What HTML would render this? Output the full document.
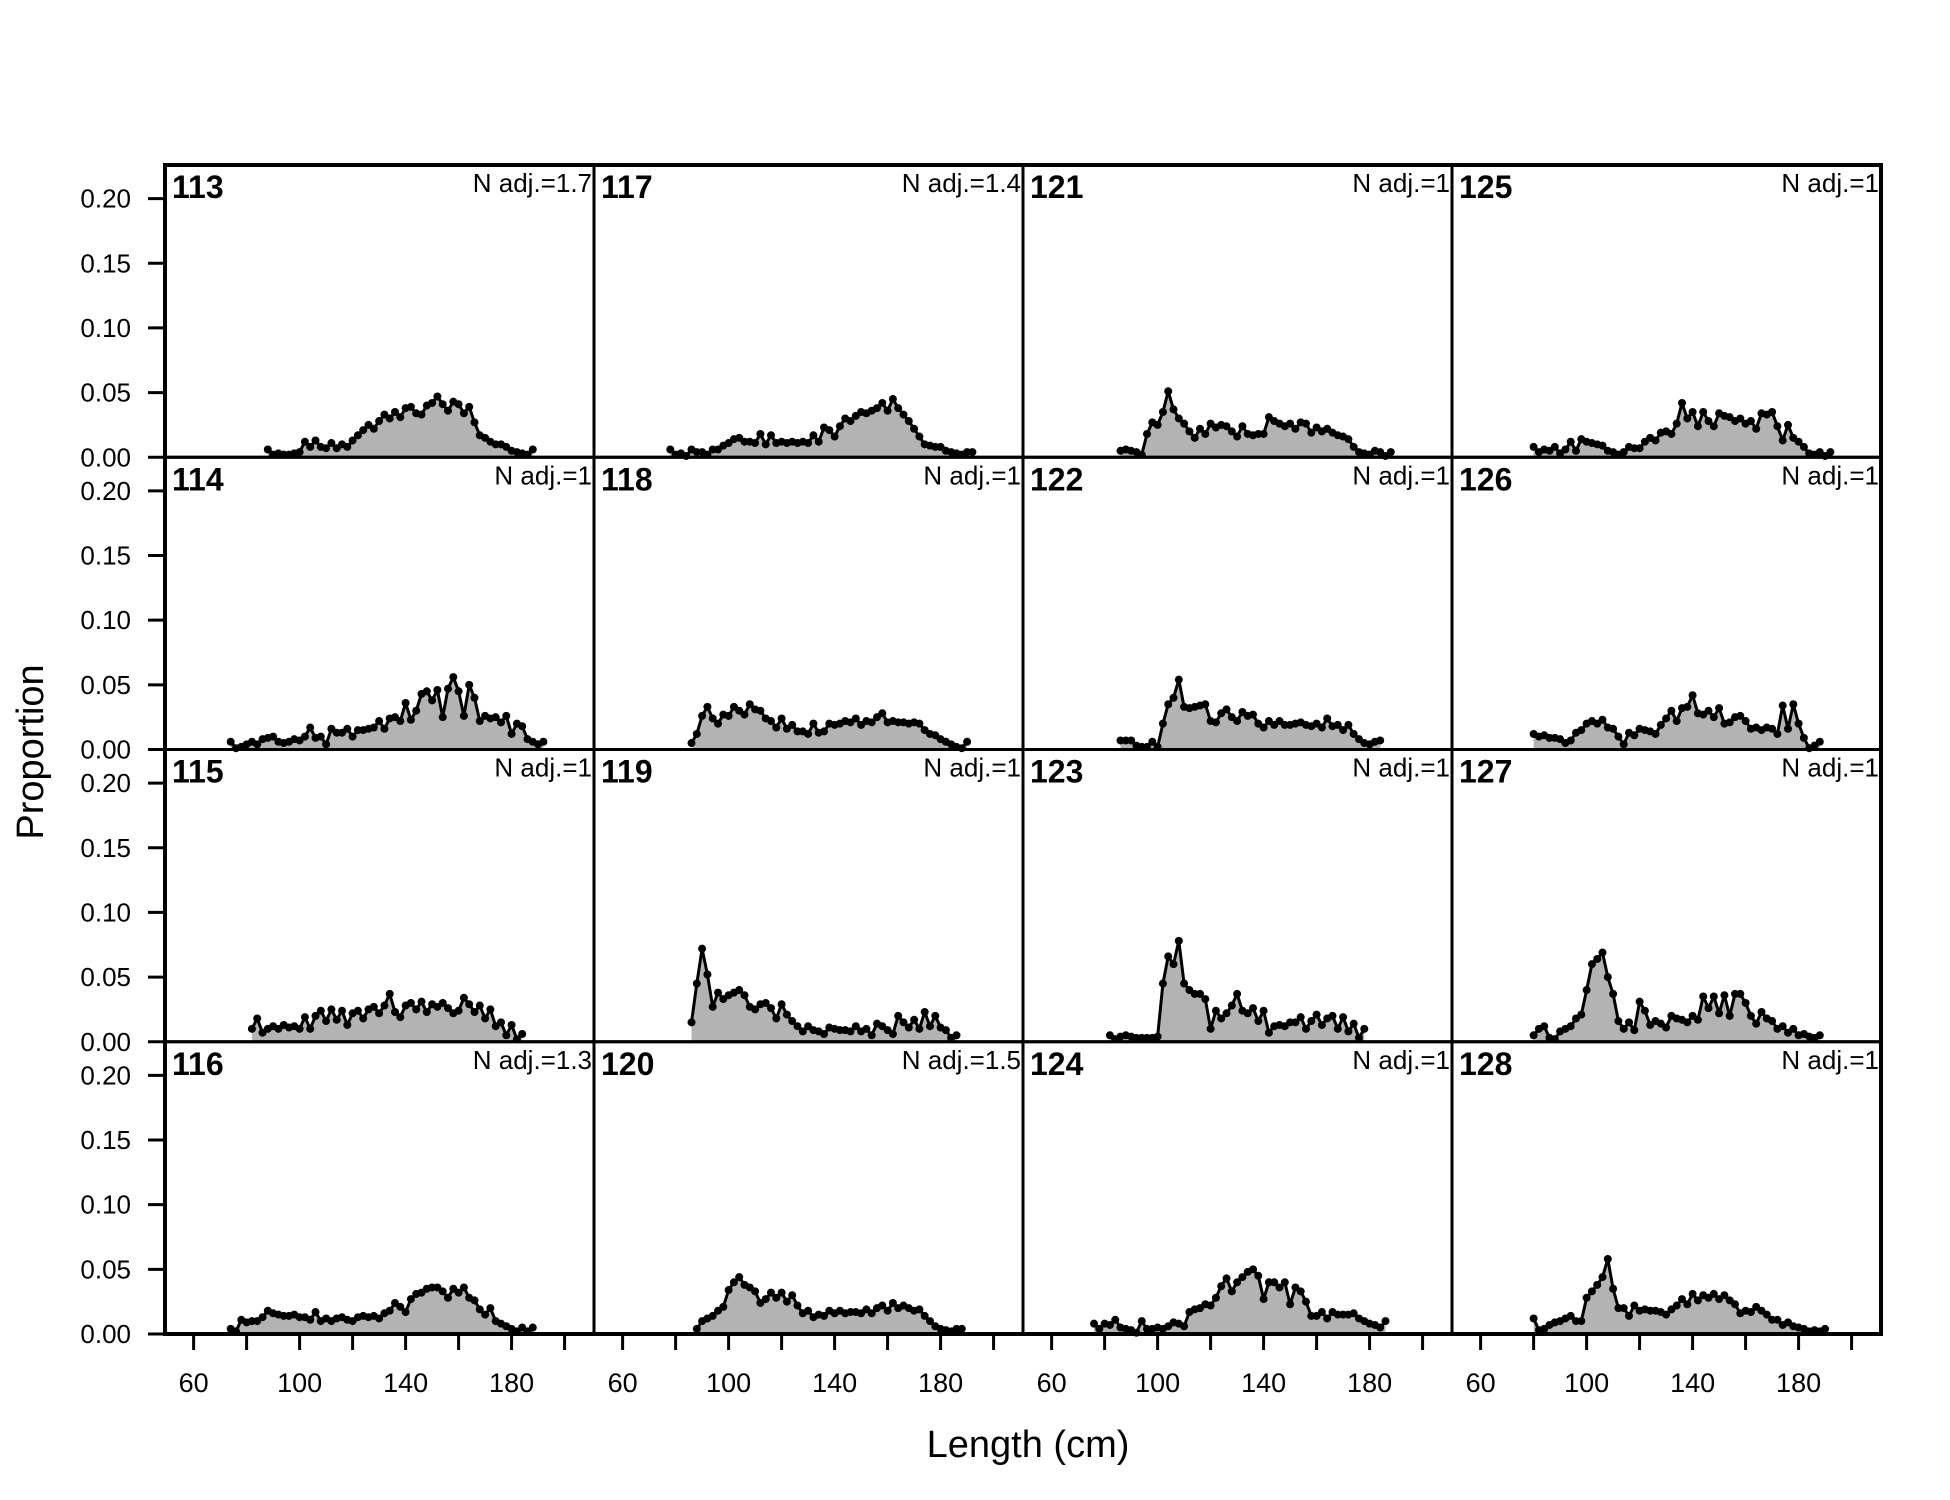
<!DOCTYPE html>
<html><head><meta charset="utf-8"><style>
html,body{margin:0;padding:0;background:#fff}
svg{display:block;font-family:"Liberation Sans",Arial,sans-serif}
</style></head><body>
<svg id="chart" width="1950" height="1500" viewBox="0 0 1950 1500" xmlns="http://www.w3.org/2000/svg">
<rect x="0" y="0" width="1950" height="1500" fill="#fff"/>
<g id="panels"></g>
<text x="0" y="0" transform="translate(43,752) rotate(-90)" text-anchor="middle" font-size="38">Proportion</text>
<text x="1028" y="1457" text-anchor="middle" font-size="38">Length (cm)</text>
</svg>
<script>
const panelIds = [113,114,115,116,117,118,119,120,121,122,123,124,125,126,127,128];
const nAdjLabels = ["1.7","1","1","1.3","1.4","1","1","1.5","1","1","1","1","1","1","1","1"];
const startLengths = [88,74,82,74,78,86,86,88,86,86,82,76,80,80,80,80];
const binWidth = 2;
const yTickValues = [0,0.05,0.10,0.15,0.20];
const yTickLabels = ["0.00","0.05","0.10","0.15","0.20"];
const xTickValues = [60,80,100,120,140,160,180,200];
const xTickLabels = ["60","","100","","140","","180",""];
const p113 = [.006,.002,.003,.002,.002,.003,.004,.012,.008,.013,.008,.007,.011,.007,.010,.008,.013,.017,.021,.025,.022,.028,.033,.030,.035,.031,.038,.039,.034,.033,.040,.042,.047,.041,.036,.043,.041,.034,.039,.027,.017,.015,.012,.010,.010,.008,.005,.004,.003,.002,.006];
const p114 = [.006,.001,.002,.004,.006,.004,.008,.009,.010,.006,.005,.006,.008,.007,.010,.017,.009,.010,.004,.016,.013,.013,.016,.010,.015,.015,.016,.017,.022,.016,.024,.025,.022,.036,.023,.030,.043,.045,.038,.046,.025,.047,.056,.045,.026,.050,.040,.022,.026,.024,.025,.021,.026,.012,.020,.018,.008,.006,.004,.006];
const p115 = [.010,.018,.007,.010,.012,.010,.013,.011,.012,.010,.019,.010,.020,.024,.016,.025,.017,.024,.013,.022,.024,.018,.025,.027,.022,.028,.037,.023,.019,.028,.030,.025,.031,.023,.029,.027,.030,.026,.022,.024,.034,.029,.023,.028,.018,.025,.012,.015,.005,.013,.002,.006];
const p116 = [.004,.002,.011,.009,.010,.010,.013,.018,.016,.015,.014,.014,.015,.013,.013,.011,.017,.010,.012,.010,.012,.013,.011,.010,.013,.014,.013,.014,.012,.016,.018,.024,.021,.017,.027,.031,.032,.035,.036,.036,.033,.028,.035,.032,.036,.028,.026,.019,.015,.020,.010,.008,.006,.004,.002,.005,.002,.005];
const p117 = [.006,.002,.003,.001,.006,.004,.004,.002,.006,.006,.009,.011,.014,.015,.012,.012,.011,.018,.010,.017,.011,.012,.011,.012,.011,.012,.011,.017,.012,.023,.021,.016,.024,.030,.028,.032,.035,.034,.036,.038,.042,.036,.045,.038,.033,.028,.022,.016,.010,.009,.008,.008,.005,.004,.003,.002,.004,.004];
const p118 = [.005,.012,.026,.033,.024,.020,.027,.026,.033,.030,.027,.035,.031,.030,.024,.022,.017,.024,.016,.019,.014,.014,.012,.020,.013,.014,.020,.019,.020,.022,.021,.024,.019,.022,.021,.025,.028,.021,.022,.021,.021,.020,.021,.020,.015,.012,.011,.008,.006,.004,.002,.001,.006];
const p119 = [.015,.045,.072,.052,.027,.038,.033,.036,.038,.040,.036,.027,.025,.029,.030,.026,.018,.029,.021,.016,.012,.008,.012,.009,.008,.006,.011,.010,.009,.009,.008,.012,.008,.010,.005,.014,.012,.009,.006,.020,.015,.011,.017,.010,.023,.012,.020,.011,.009,.003,.005];
const p120 = [.004,.010,.012,.014,.018,.021,.034,.040,.044,.038,.036,.033,.024,.027,.032,.028,.032,.025,.030,.022,.016,.018,.013,.015,.014,.018,.016,.018,.016,.017,.017,.016,.019,.016,.020,.022,.018,.024,.020,.022,.020,.018,.019,.014,.010,.006,.004,.003,.002,.004,.004];
const p121 = [.005,.006,.005,.004,.002,.018,.027,.025,.035,.051,.037,.030,.026,.020,.015,.022,.018,.026,.023,.025,.024,.020,.016,.024,.018,.017,.018,.018,.031,.028,.026,.024,.026,.022,.027,.026,.019,.023,.020,.022,.019,.017,.016,.014,.008,.004,.003,.002,.005,.004,.001,.004];
const p122 = [.007,.007,.007,.003,.002,.002,.006,.002,.020,.035,.040,.054,.033,.032,.033,.034,.035,.022,.021,.028,.031,.025,.022,.029,.026,.027,.020,.017,.022,.019,.022,.019,.019,.020,.021,.019,.018,.020,.017,.024,.018,.019,.015,.019,.012,.008,.005,.004,.006,.007];
const p123 = [.005,.002,.004,.005,.004,.003,.003,.003,.003,.004,.045,.066,.060,.078,.045,.040,.037,.037,.033,.010,.024,.018,.022,.028,.037,.024,.022,.026,.016,.024,.007,.012,.013,.012,.015,.015,.019,.010,.016,.021,.013,.018,.020,.010,.019,.008,.014,.003,.010];
const p124 = [.008,.004,.008,.007,.011,.005,.004,.003,.001,.010,.004,.004,.005,.004,.006,.009,.008,.006,.017,.019,.020,.023,.022,.028,.037,.043,.033,.040,.044,.048,.050,.045,.027,.040,.040,.036,.040,.023,.036,.033,.025,.014,.014,.017,.012,.017,.015,.015,.015,.016,.012,.010,.008,.007,.005,.010];
const p125 = [.008,.004,.006,.005,.008,.003,.006,.012,.005,.014,.012,.011,.010,.009,.005,.004,.002,.004,.008,.007,.007,.012,.015,.013,.019,.020,.018,.026,.042,.030,.035,.024,.035,.028,.024,.034,.032,.031,.028,.030,.026,.028,.022,.034,.033,.035,.024,.013,.025,.015,.012,.008,.003,.002,.004,.001,.004];
const p126 = [.012,.010,.011,.009,.009,.008,.005,.007,.013,.015,.020,.022,.020,.023,.017,.016,.010,.004,.013,.011,.016,.015,.014,.012,.019,.024,.030,.022,.032,.033,.042,.028,.027,.030,.025,.032,.020,.021,.025,.026,.022,.016,.017,.015,.017,.016,.012,.034,.016,.035,.020,.009,.001,.003,.006];
const p127 = [.005,.010,.012,.003,.002,.008,.010,.012,.018,.021,.040,.060,.064,.069,.050,.037,.016,.010,.015,.009,.031,.024,.013,.016,.014,.011,.020,.018,.017,.015,.020,.017,.035,.026,.035,.022,.036,.020,.037,.037,.030,.020,.014,.023,.018,.016,.010,.012,.007,.010,.005,.006,.004,.003,.005];
const p128 = [.012,.003,.004,.007,.009,.010,.012,.014,.010,.010,.028,.033,.038,.044,.058,.035,.020,.020,.014,.022,.018,.019,.018,.018,.017,.015,.019,.022,.027,.023,.031,.026,.030,.028,.031,.027,.030,.026,.023,.016,.018,.017,.021,.018,.015,.011,.011,.007,.009,.006,.005,.004,.002,.003,.002,.004];
const series = [p113,p114,p115,p116,p117,p118,p119,p120,p121,p122,p123,p124,p125,p126,p127,p128];

const NS = "http://www.w3.org/2000/svg";
const L = 165, T = 165, PW = 429, PH = 292.25;
const XMIN = 49.2, XMAX = 211.1, YMAX = 0.226;
const root = document.getElementById('panels');
function mk(tag, attrs, parent){const e=document.createElementNS(NS,tag);for(const k in attrs)e.setAttribute(k,attrs[k]);parent.appendChild(e);return e;}
function xs(col,v){return L+col*PW+(v-XMIN)/(XMAX-XMIN)*PW;}
function ys(row,v){return T+(row+1)*PH-v/YMAX*PH;}

for(let i=0;i<panelIds.length;i++){
  const col=Math.floor(i/4), row=i%4;
  const g=mk('g',{},root);
  
  
  const vals=series[i], s0=startLengths[i];
  const pts=vals.map((v,j)=>[xs(col,s0+j*binWidth),ys(row,v)]);
  const base=ys(row,0);
  const poly=mk('polygon',{points:[[pts[0][0],base]].concat(pts,[[pts[pts.length-1][0],base]]).map(p=>p.join(',')).join(' '),fill:'#b3b3b3',stroke:'none'},g);
  
  
  const line=mk('polyline',{points:pts.map(p=>p.join(',')).join(' '),fill:'none',stroke:'#000','stroke-width':3,'stroke-linejoin':'round'},g);
  
  
  pts.forEach(p=>{
    const c=mk('circle',{cx:p[0],cy:p[1],r:4,fill:'#000'},g);
    
    
  });
  const fr=mk('rect',{x:L+col*PW,y:T+row*PH,width:PW,height:PH,fill:'none',stroke:'#000','stroke-width':3},g);
  
  
  const t1=mk('text',{x:L+col*PW+7,y:T+row*PH+33,'font-size':32,'font-weight':'bold'},g);
  t1.textContent=panelIds[i];
  
  
  const t2=mk('text',{x:L+(col+1)*PW-2,y:T+row*PH+27,'font-size':26,'text-anchor':'end'},g);
  t2.textContent='N adj.='+nAdjLabels[i];
  
  
}
const of=mk('rect',{x:L,y:T,width:4*PW,height:4*PH,fill:'none',stroke:'#000','stroke-width':4},root);


for(let row=0;row<4;row++){
  yTickValues.forEach((v,k)=>{
    const y=ys(row,v);
    const tk=mk('line',{x1:L-17,x2:L,y1:y,y2:y,stroke:'#000','stroke-width':3},root);
    
    
    const tl=mk('text',{x:L-34,y:y+9,'font-size':26,'text-anchor':'end'},root);
    tl.textContent=yTickLabels[k];
    
    
  });
}
const by=T+4*PH;
for(let col=0;col<4;col++){
  xTickValues.forEach((v,k)=>{
    const x=xs(col,v);
    const tk=mk('line',{x1:x,x2:x,y1:by,y2:by+16,stroke:'#000','stroke-width':3},root);
    
    
    if(xTickLabels[k]){
      const tl=mk('text',{x:x,y:by+58,'font-size':27,'text-anchor':'middle'},root);
      tl.textContent=xTickLabels[k];
      
      
    }
  });
}
</script>
</body></html>
